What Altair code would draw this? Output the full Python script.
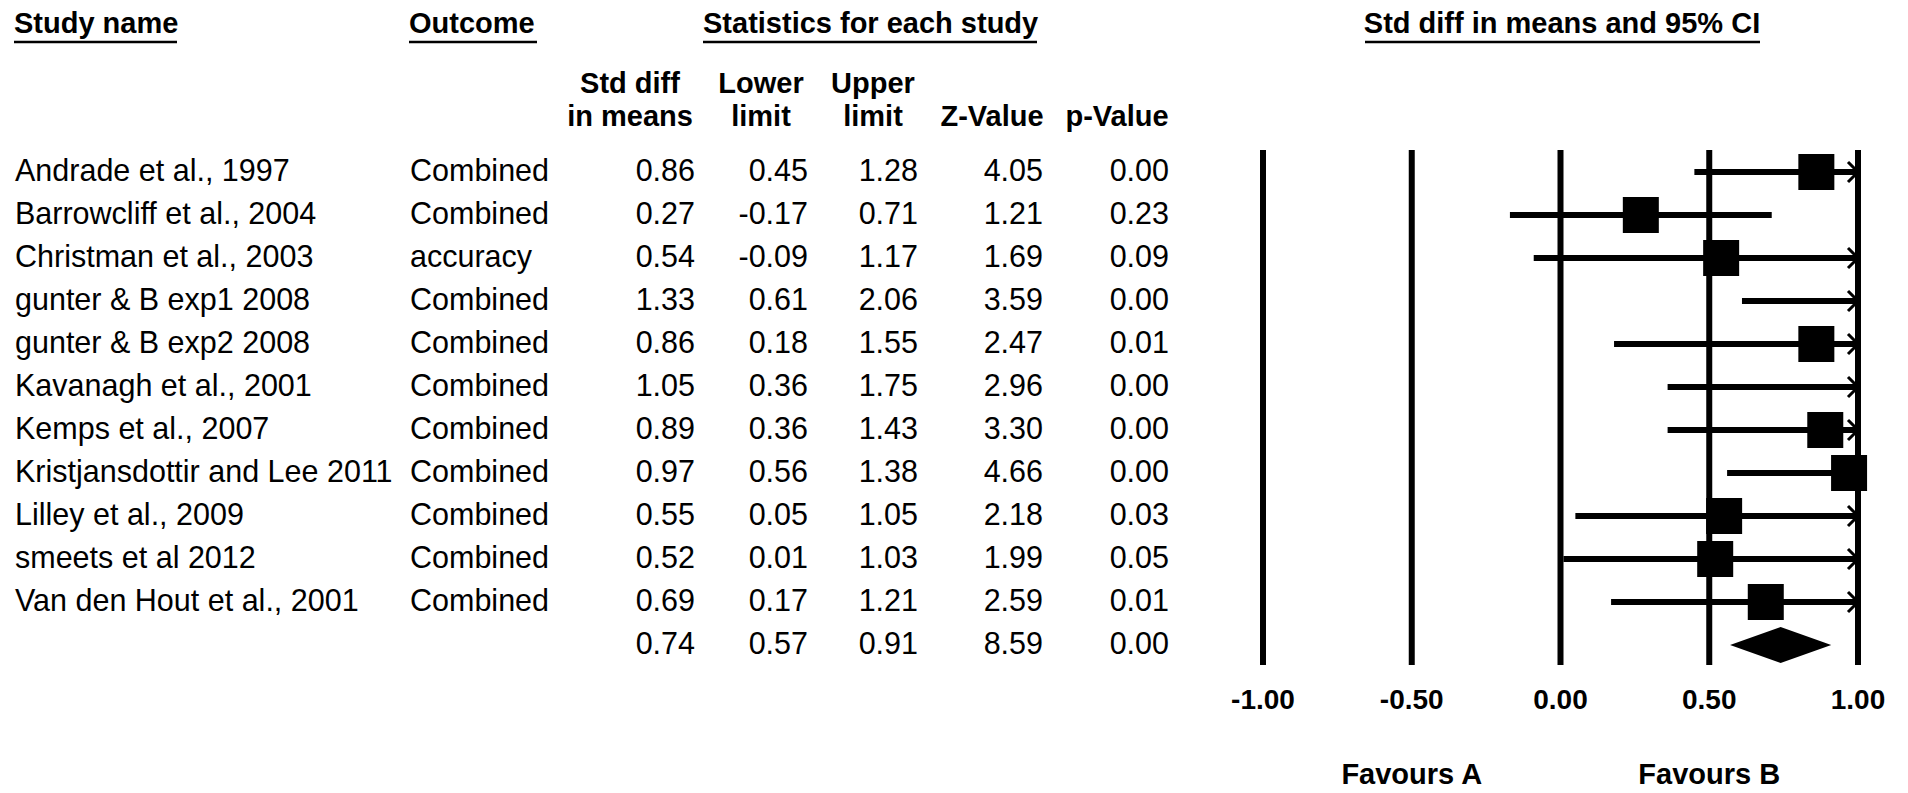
import altair as alt
import pandas as pd

# ---------------- data ----------------
studies = [
    "Andrade et al., 1997", "Barrowcliff et al., 2004", "Christman et al., 2003",
    "gunter & B exp1 2008", "gunter & B exp2 2008", "Kavanagh et al., 2001",
    "Kemps et al., 2007", "Kristjansdottir and Lee 2011", "Lilley et al., 2009",
    "smeets et al 2012", "Van den Hout et al., 2001",
]
outcomes = ["Combined", "Combined", "accuracy", "Combined", "Combined", "Combined",
            "Combined", "Combined", "Combined", "Combined", "Combined"]
effect = [0.86, 0.27, 0.54, 1.33, 0.86, 1.05, 0.89, 0.97, 0.55, 0.52, 0.69]
lower = [0.45, -0.17, -0.09, 0.61, 0.18, 0.36, 0.36, 0.56, 0.05, 0.01, 0.17]
upper = [1.28, 0.71, 1.17, 2.06, 1.55, 1.75, 1.43, 1.38, 1.05, 1.03, 1.21]
zval = [4.05, 1.21, 1.69, 3.59, 2.47, 2.96, 3.30, 4.66, 2.18, 1.99, 2.59]
pval = [0.00, 0.23, 0.09, 0.00, 0.01, 0.00, 0.00, 0.00, 0.03, 0.05, 0.01]

summary_effect = 0.74
summary_lower = 0.57
summary_upper = 0.91
summary_z = 8.59
summary_p = 0.00

ticks = [-1.0, -0.5, 0.0, 0.5, 1.0]
tick_labels = ["-1.00", "-0.50", "0.00", "0.50", "1.00"]
favours_pos = [-0.5, 0.5]
favours_labels = ["Favours A", "Favours B"]

# ---------------- styling ----------------
FONT = "Liberation Sans"
BODY = 30.5
HEAD = 29
XMIN, XMAX = -1.0, 1.0

table = pd.DataFrame({
    "row": list(range(len(studies) + 1)),
    "name": studies + [""],
    "outcome": outcomes + [""],
    "effect": effect + [summary_effect],
    "lower": lower + [summary_lower],
    "upper": upper + [summary_upper],
    "z": zval + [summary_z],
    "p": pval + [summary_p],
})
for c in ["effect", "lower", "upper", "z", "p"]:
    table[c + "_s"] = table[c].map(lambda v: f"{v:.2f}")

study_df = table.iloc[:len(studies)].copy()
study_df["lo_c"] = study_df["lower"].clip(lower=XMIN)
study_df["hi_c"] = study_df["upper"].clip(upper=XMAX)
squares_df = study_df[study_df["effect"] <= XMAX]
arrows_df = study_df[study_df["upper"] > XMAX].assign(xa=XMAX)

n = len(studies)
half = 0.42
diamond_df = pd.DataFrame({
    "x": [summary_lower, summary_effect, summary_upper],
    "y": [n, n - half, n],
    "y2": [n, n + half, n],
})

xscale = alt.Scale(domain=[XMIN, XMAX], range=[1255, 1850])
yscale = alt.Scale(domain=[0, n], range=[164, 637])

X = lambda f: alt.X(f"{f}:Q", scale=xscale, axis=None)
Y = lambda f: alt.Y(f"{f}:Q", scale=yscale, axis=None)

layers = []

# vertical reference lines
ticks_df = pd.DataFrame({"t": ticks, "lab": tick_labels})
layers.append(alt.Chart(ticks_df).mark_rule(color="black", strokeWidth=6).encode(
    x=X("t"), y=alt.value(142), y2=alt.value(657)))
layers.append(alt.Chart(ticks_df).mark_text(
    font=FONT, fontSize=28, fontWeight="bold", align="center", baseline="alphabetic",
    color="black").encode(x=X("t"), y=alt.value(701), text="lab:N"))

fav_df = pd.DataFrame({"t": favours_pos, "lab": favours_labels})
layers.append(alt.Chart(fav_df).mark_text(
    font=FONT, fontSize=HEAD, fontWeight="bold", align="center", baseline="alphabetic",
    color="black").encode(x=X("t"), y=alt.value(776), text="lab:N"))

# CI lines
layers.append(alt.Chart(study_df).mark_rule(color="black", strokeWidth=6).encode(
    x=X("lo_c"), x2="hi_c:Q", y=Y("row")))
# arrows for clipped CIs
layers.append(alt.Chart(arrows_df).mark_point(
    shape="M -1 -1 L 0 0 L -1 1", size=400, filled=False, color="black",
    strokeWidth=3, opacity=1).encode(x=X("xa"), y=Y("row")))
# squares
layers.append(alt.Chart(squares_df).mark_square(
    size=1296, color="black", opacity=1).encode(x=X("effect"), y=Y("row")))
# summary diamond
layers.append(alt.Chart(diamond_df).mark_area(color="black", opacity=1).encode(
    x=X("x"), y=Y("y"), y2="y2:Q"))

# table text columns
def col(field, xpx, align):
    return alt.Chart(table).mark_text(
        font=FONT, fontSize=BODY, align=align, baseline="middle", color="black"
    ).encode(x=alt.value(xpx), y=Y("row"), text=f"{field}:N")

layers += [
    col("name", 7, "left"),
    col("outcome", 402, "left"),
    col("effect_s", 687, "right"),
    col("lower_s", 800, "right"),
    col("upper_s", 910, "right"),
    col("z_s", 1035, "right"),
    col("p_s", 1161, "right"),
]

# headers
def label(txt, x, y, align="center"):
    return alt.Chart(pd.DataFrame({"t": [txt]})).mark_text(
        font=FONT, fontSize=HEAD, fontWeight="bold", align=align,
        baseline="alphabetic", color="black"
    ).encode(x=alt.value(x), y=alt.value(y), text="t:N")

def underline(x1, x2, y=34):
    return alt.Chart(pd.DataFrame({"a": [0]})).mark_rule(
        color="black", strokeWidth=2.5).encode(
        x=alt.value(x1), x2=alt.value(x2), y=alt.value(y))

layers += [
    label("Study name", 6, 25, "left"), underline(6, 169),
    label("Outcome", 401, 25, "left"), underline(401, 529),
    label("Statistics for each study", 695, 25, "left"), underline(695, 1029),
    label("Std diff in means and 95% CI", 1554, 25, "center"), underline(1357, 1752),
    label("Std diff", 622, 85), label("in means", 622, 118),
    label("Lower", 753, 85), label("limit", 753, 118),
    label("Upper", 865, 85), label("limit", 865, 118),
    label("Z-Value", 984, 118), label("p-Value", 1109, 118),
]

chart = alt.layer(*layers).properties(
    width=1885, height=785,
    autosize=alt.AutoSizeParams(type="none"),
    padding=0,
    background="white",
).configure_view(stroke=None)

chart.save("out.html", embed_options={"renderer": "svg", "actions": False})
